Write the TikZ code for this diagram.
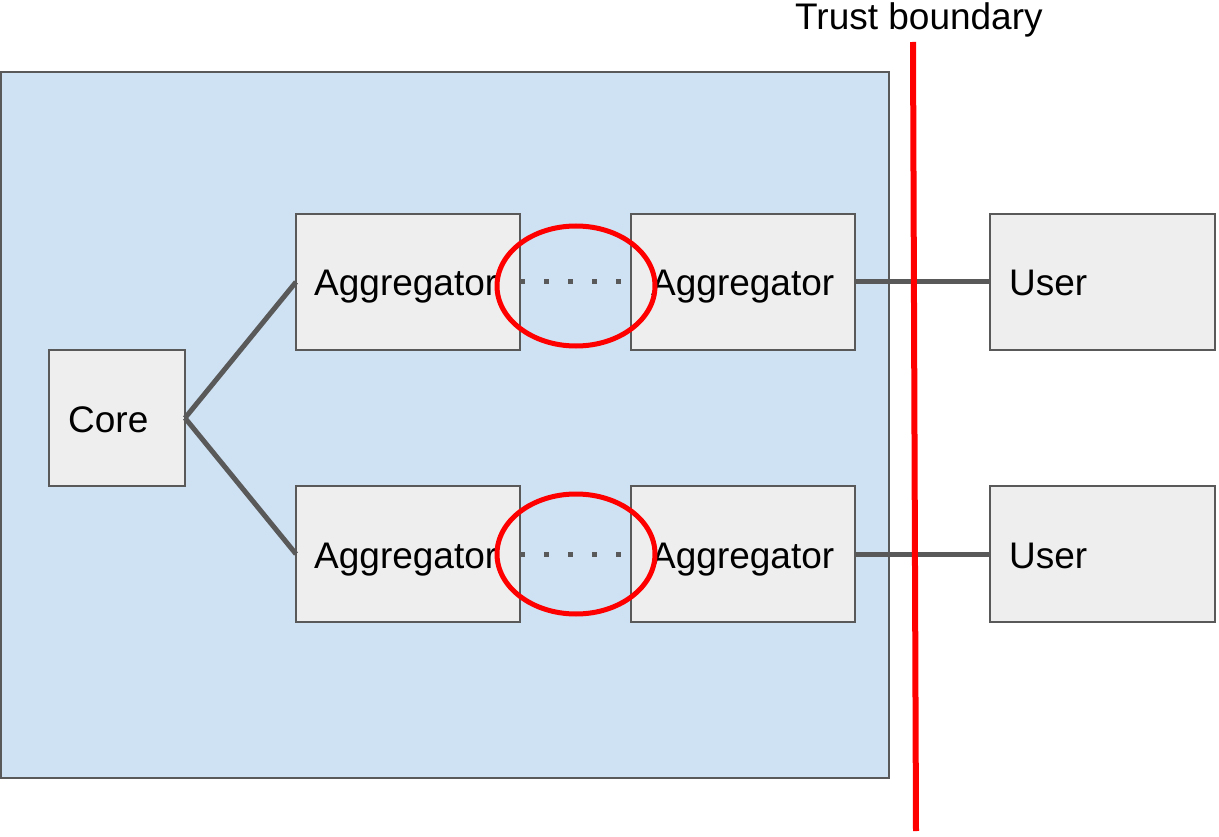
\documentclass[tikz,border=0pt]{standalone}
\usepackage{fontspec}
\setmainfont{Liberation Sans}
\definecolor{zoneblue}{HTML}{CFE2F3}
\definecolor{boxgray}{HTML}{EEEEEE}
\definecolor{edgegray}{HTML}{595959}
\definecolor{alertred}{HTML}{FF0000}
\begin{document}
\begin{tikzpicture}[x=1pt,y=-1pt,
  zone/.style={draw=edgegray,fill=zoneblue,line width=1.8pt},
  block/.style={draw=edgegray,fill=boxgray,line width=1.8pt},
  label/.style={anchor=base west,inner sep=0pt,font=\fontsize{37}{44}\selectfont},
  link/.style={draw=edgegray,line width=5pt},
  dotlink/.style={draw=edgegray,line width=5pt,dash pattern=on 5pt off 19pt},
  ring/.style={draw=alertred,line width=5pt},
  boundary/.style={draw=alertred,line width=6pt}]
\useasboundingbox (0,0) rectangle (1219,837);

% trusted zone
\draw[zone] (1,72) rectangle (889,778);

% boxes
\draw[block] (49,350) rectangle (185,486);
\node[label] (core) at (68,432) {Core};
\coordinate (coreR) at (185,418);

\draw[block] (296,214) rectangle (520,350);
\node[label] (agg1) at (314,296) {Aggregator};
\draw[block] (631,214) rectangle (855,350);
\node[label] (agg2) at (651,296) {Aggregator};
\draw[block] (296,486) rectangle (520,622);
\node[label] (agg3) at (314,568) {Aggregator};
\draw[block] (631,486) rectangle (855,622);
\node[label] (agg4) at (651,568) {Aggregator};

\draw[block] (990,214) rectangle (1215,350);
\node[label] (user1) at (1009,296) {User};
\draw[block] (990,486) rectangle (1215,622);
\node[label] (user2) at (1009,568) {User};

% connection points on the box edges
\coordinate (a1L) at (296,282);
\coordinate (a1R) at (520,282);
\coordinate (a2L) at (631,282);
\coordinate (a2R) at (855,282);
\coordinate (u1L) at (990,282);
\coordinate (a3L) at (296,554);
\coordinate (a3R) at (520,554);
\coordinate (a4L) at (631,554);
\coordinate (a4R) at (855,554);
\coordinate (u2L) at (990,554);

% connectors
\draw[link] (coreR) -- (a1L);
\draw[link] (coreR) -- (a3L);
\draw[dotlink] (a1R) -- (a2L);
\draw[dotlink] (a3R) -- (a4L);
\draw[link] (a2R) -- (u1L);
\draw[link] (a4R) -- (u2L);

% highlighted links
\draw[ring] (576,286) ellipse [x radius=79, y radius=60];
\draw[ring] (576,554) ellipse [x radius=79, y radius=60];

% trust boundary
\coordinate (tbTop) at (913,42);
\coordinate (tbBot) at (916,831);
\draw[boundary] (tbTop) -- (tbBot);
\node[label] (tblabel) at (795,30) {Trust boundary};
\end{tikzpicture}
\end{document}
